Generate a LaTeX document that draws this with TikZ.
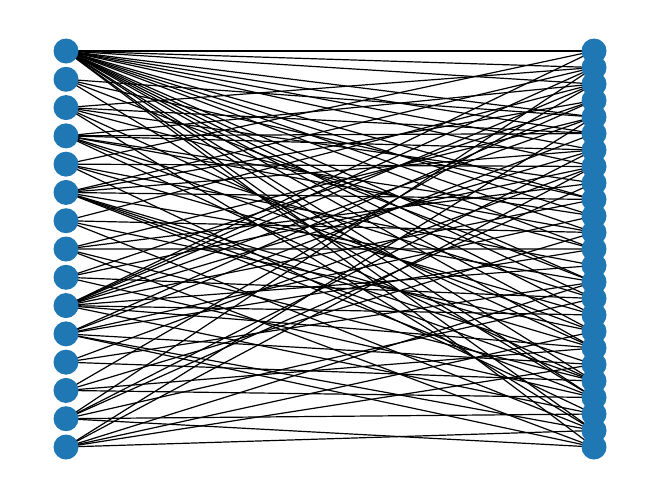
\documentclass[tikz,border=0pt]{standalone}
\usetikzlibrary{backgrounds}
\definecolor{nodeblue}{HTML}{1F77B4}
\tikzset{
  vert/.style={circle, fill=nodeblue, draw=none, minimum size=25pt, inner sep=0pt},
  edge/.style={draw=black, line width=1.2pt}
}
\begin{document}
\begin{tikzpicture}[x=1pt,y=-1pt]
\useasboundingbox (0,0) rectangle (660,499);
\foreach \i in {0,...,14} {
  \node[vert] (L\i) at (66,{51+28.2857*\i}) {};
}
\foreach \j in {0,...,24} {
  \node[vert] (R\j) at (594,{51+16.5*\j}) {};
}
\begin{scope}[on background layer]
\foreach \a/\bs in {
 0/{0,1,2,4,5,6,7,9,10,11,12,14,15,16,17,18,20,21,23,24},
 1/{4,9,14,21},
 2/{1,5,8,12,18,23},
 3/{2,5,6,10,11,15,17,20},
 4/{0,7,13,16,22},
 5/{1,3,6,9,14,18,19,20,21},
 6/{2,11,17,23},
 7/{4,8,12,20,24},
 8/{3,7,15,21},
 9/{0,1,2,4,6,9,13,16,18,22},
 10/{3,5,10,12,19,23,24},
 11/{7,14,20},
 12/{2,11,18,21},
 13/{1,6,8,15,22,24},
 14/{4,7,14,17,19,23}} {
  \foreach \b in \bs {
    \draw[edge] (L\a.center) -- (R\b.center);
  }
}
\end{scope}
\end{tikzpicture}
\end{document}
